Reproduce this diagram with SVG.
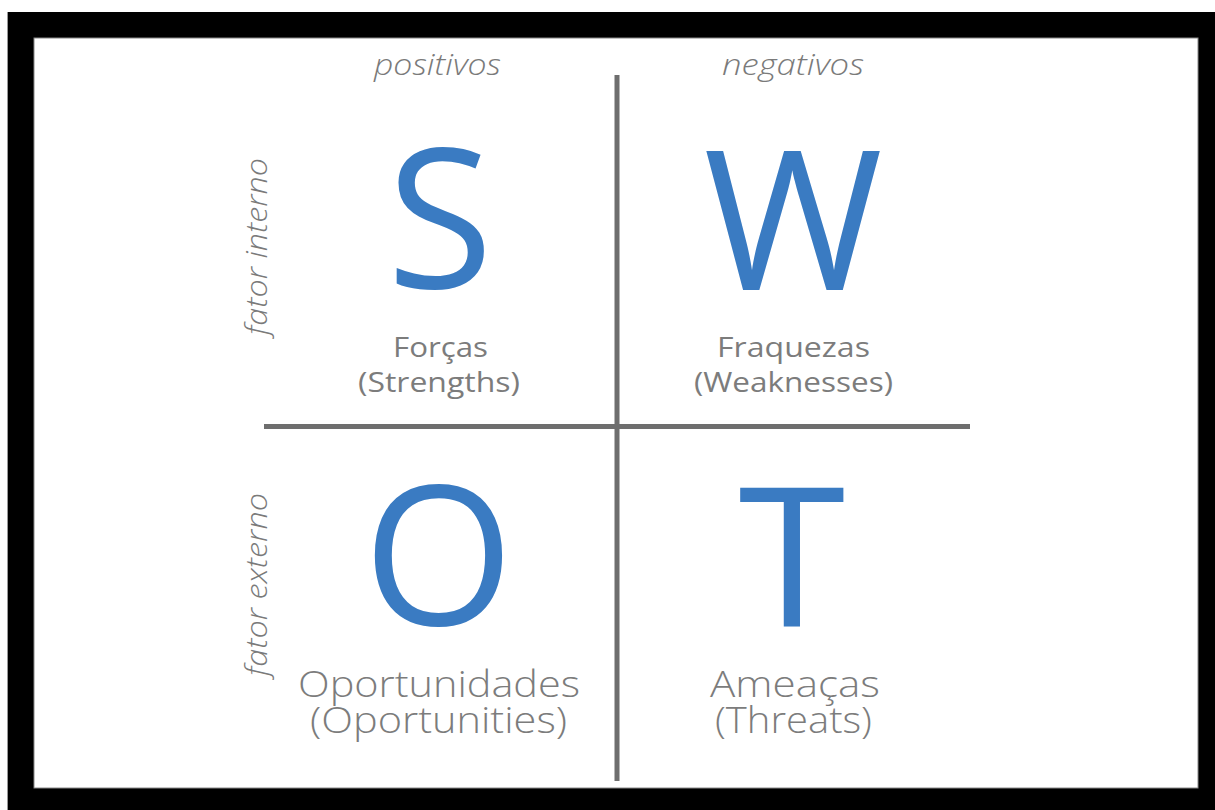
<svg xmlns="http://www.w3.org/2000/svg" width="1215" height="810" viewBox="0 0 1215 810">
<style>
.big{font-family:"Open Sans","Liberation Sans",sans-serif;font-size:194px;fill:#3a7bc2;text-anchor:middle}
.lbl{font-family:"Open Sans","Liberation Sans",sans-serif;font-size:28px;fill:#7c7c7c;text-anchor:middle}
.lbl2{font-family:"Open Sans","Liberation Sans",sans-serif;font-weight:300;font-size:37px;fill:#7c7c7c;text-anchor:middle}
.ax{font-family:"Open Sans","Liberation Sans",sans-serif;font-weight:300;font-style:italic;font-size:30px;fill:#7a7a7a;text-anchor:middle}
.ln{stroke:#6e6e6e;stroke-width:5}
</style>
<rect x="0" y="0" width="1215" height="810" fill="#ffffff"/>
<rect x="7" y="12" width="1208" height="798" fill="#000000"/>
<line x1="7.5" y1="12" x2="7.5" y2="810" stroke="#999" stroke-width="1"/>
<rect x="34" y="38" width="1164" height="750" fill="#ffffff" stroke="#888" stroke-width="1"/>
<g id="connectors">
<line class="ln" x1="617" y1="75" x2="617" y2="781"/>
<line class="ln" x1="264" y1="426.5" x2="970" y2="426.5"/>
</g>
<g id="axis-positivos"><text class="ax" x="437.5" y="75" textLength="127" lengthAdjust="spacingAndGlyphs">positivos</text></g>
<g id="axis-negativos"><text class="ax" x="793" y="75" textLength="142" lengthAdjust="spacingAndGlyphs">negativos</text></g>
<g id="axis-interno"><text class="ax" transform="translate(267,246.5) rotate(-90)" textLength="177" lengthAdjust="spacingAndGlyphs">fator interno</text></g>
<g id="axis-externo"><text class="ax" transform="translate(267,584.5) rotate(-90)" textLength="183" lengthAdjust="spacingAndGlyphs">fator externo</text></g>
<g id="node-S">
<text class="big" x="440" y="288">S</text>
<text class="lbl"><tspan x="440.5" y="357" textLength="95" lengthAdjust="spacingAndGlyphs">Forças</tspan><tspan x="439" y="392" textLength="162" lengthAdjust="spacingAndGlyphs">(Strengths)</tspan></text>
</g>
<g id="node-W">
<text class="big" x="793" y="290">W</text>
<text class="lbl"><tspan x="793.5" y="357" textLength="153" lengthAdjust="spacingAndGlyphs">Fraquezas</tspan><tspan x="793.5" y="392" textLength="199" lengthAdjust="spacingAndGlyphs">(Weaknesses)</tspan></text>
</g>
<g id="node-O">
<text class="big" x="438.5" y="625" font-size="188">O</text>
<text class="lbl2"><tspan x="439" y="697" textLength="282" lengthAdjust="spacingAndGlyphs">Oportunidades</tspan><tspan x="438.5" y="733" textLength="257" lengthAdjust="spacingAndGlyphs">(Oportunities)</tspan></text>
</g>
<g id="node-T">
<text class="big" x="792" y="627">T</text>
<text class="lbl2"><tspan x="795" y="697" textLength="170" lengthAdjust="spacingAndGlyphs">Ameaças</tspan><tspan x="793.5" y="733" textLength="157" lengthAdjust="spacingAndGlyphs">(Threats)</tspan></text>
</g>
</svg>
